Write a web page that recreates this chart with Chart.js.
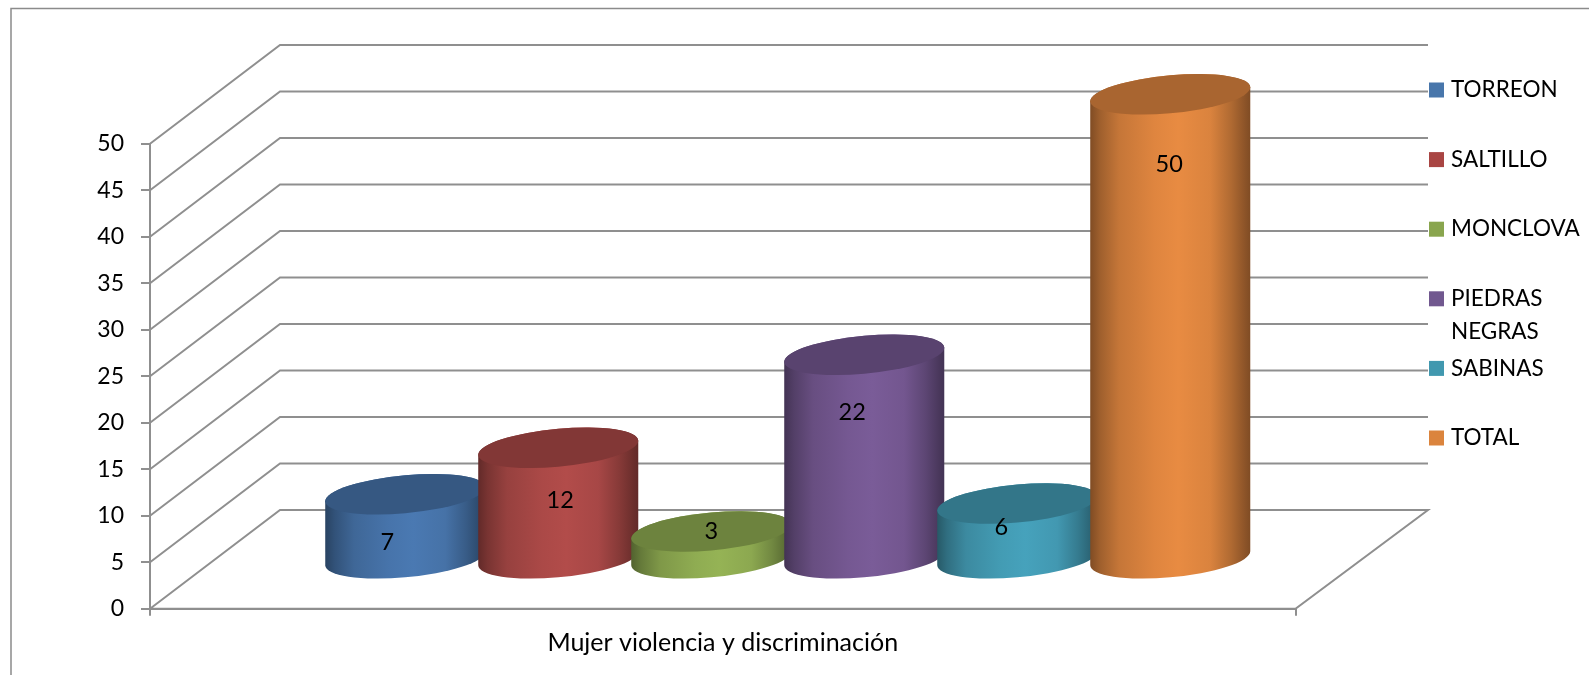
<!DOCTYPE html>
<html>
<head>
<meta charset="utf-8">
<title>Mujer violencia y discriminación</title>
<script src="https://cdn.jsdelivr.net/npm/chart.js@4"></script>
<style>
  html, body { margin: 0; padding: 0; background: #fff; }
  canvas { display: block; }
</style>
</head>
<body>
<canvas id="grafica" width="1589" height="675"></canvas>
<script>
const categoryLabel = ['Mujer violencia y discriminación'];
const cities = ['TORREON', 'SALTILLO', 'MONCLOVA', 'PIEDRAS NEGRAS', 'SABINAS', 'TOTAL'];
const cityValues = [7, 12, 3, 22, 6, 50];
const bodyColors = ['#4a79b2', '#b24c4a', '#95b355', '#7a5c98', '#46a2bc', '#e88b42'];
const legendColors = ['#4876ab', '#a94543', '#89a54e', '#71588f', '#4198af', '#db843d'];

const FONT = 'Lato, Carlito, "Open Sans", sans-serif';
const LINE = '#8f8f8f';
const DEPTH_X = 130, DEPTH_Y = 98.7;   // fondo del "cubo" 3D
// ajuste de las etiquetas de valor respecto a la cara superior del cilindro
const labelNudgeX = [-18, 2, 0, -12, -16, -1];
const labelNudgeY = [48, 53, 0, 58, 24, 70];

function shade(hex, f) {
    const n = parseInt(hex.slice(1), 16);
    const r = Math.round((n >> 16 & 255) * f);
    const g = Math.round((n >> 8 & 255) * f);
    const b = Math.round((n & 255) * f);
    return `rgb(${r},${g},${b})`;
}

// elipse inclinada: centro (cx, cy), de angulo a0 a a1
function skewArc(ctx, cx, cy, w, a0, a1) {
    ctx.save();
    ctx.transform(w, -7, 0, 19, cx, cy);
    ctx.arc(0, 0, 1, a0, a1);
    ctx.restore();
}

function drawCylinder(ctx, bar, color) {
    const w = bar.width * 1.046 / 2;
    const cx = bar.x + DEPTH_X / 2;
    const top = bar.y - DEPTH_Y / 2;
    const bottom = bar.base - DEPTH_Y / 2;

    const grad = ctx.createLinearGradient(cx - w, 0, cx + w, 0);
    [[0, .55], [.06, .68], [.18, .85], [.4, .96], [.55, 1], [.75, .94], [.88, .76], [.97, .6], [1, .55]]
        .forEach(s => grad.addColorStop(s[0], shade(color, s[1])));

    ctx.beginPath();
    ctx.moveTo(cx + w, top - 7);
    ctx.lineTo(cx + w, bottom - 7);
    skewArc(ctx, cx, bottom, w, 0, Math.PI);
    ctx.lineTo(cx - w, top + 7);
    skewArc(ctx, cx, top, w, Math.PI, 0);
    ctx.closePath();
    ctx.fillStyle = grad;
    ctx.fill();

    ctx.beginPath();
    skewArc(ctx, cx, top, w, 0, Math.PI * 2);
    ctx.closePath();
    ctx.fillStyle = shade(color, .73);
    ctx.fill();
}

const frame3d = {
    id: 'frame3d',
    beforeDraw(chart) {
        const ctx = chart.ctx;
        ctx.save();
        ctx.strokeStyle = '#8b8b8b';
        ctx.lineWidth = 1.5;
        ctx.beginPath();
        ctx.moveTo(11, 675);
        ctx.lineTo(11, 8.5);
        ctx.lineTo(1589, 8.5);
        ctx.stroke();
        ctx.restore();
    },
    beforeDatasetsDraw(chart) {
        const ctx = chart.ctx;
        const { left, right } = chart.chartArea;
        const yScale = chart.scales.y;
        ctx.save();
        ctx.strokeStyle = LINE;
        ctx.lineWidth = 2;
        yScale.ticks.forEach(t => {
            const y = yScale.getPixelForValue(t.value);
            ctx.beginPath();
            ctx.moveTo(left, y);
            ctx.lineTo(left + DEPTH_X, y - DEPTH_Y);
            ctx.lineTo(right + DEPTH_X + 2.5, y - DEPTH_Y);
            if (t.value === 0) {
                ctx.lineTo(right, y);
                ctx.lineTo(left, y);
            }
            ctx.stroke();
        });
        ctx.restore();
        // de izquierda a derecha: cada cilindro tapa al anterior
        cityValues.forEach((v, i) => {
            drawCylinder(ctx, chart.getDatasetMeta(i).data[0], bodyColors[i]);
        });
    },
    beforeDatasetDraw() {
        return false;
    },
    afterDatasetsDraw(chart) {
        const ctx = chart.ctx;
        ctx.save();
        ctx.fillStyle = '#000';
        ctx.font = '23.5px ' + FONT;
        ctx.textAlign = 'center';
        ctx.textBaseline = 'middle';
        cityValues.forEach((v, i) => {
            const bar = chart.getDatasetMeta(i).data[0];
            const x = bar.x + DEPTH_X / 2 + labelNudgeX[i];
            const y = bar.y - DEPTH_Y / 2 + labelNudgeY[i];
            ctx.fillText(v, x, y);
        });
        ctx.restore();
    },
    afterDraw(chart) {
        // leyenda a la derecha, repartida a lo alto del fondo
        const ctx = chart.ctx;
        const x = chart.chartArea.right + DEPTH_X + 3.5;
        ctx.save();
        ctx.font = '22.5px ' + FONT;
        ctx.textBaseline = 'middle';
        ctx.textAlign = 'left';
        cities.forEach((name, i) => {
            const y = 90 + i * 69.6;
            ctx.fillStyle = legendColors[i];
            ctx.fillRect(x, y - 7.5, 15, 15);
            ctx.fillStyle = '#000';
            name.split(' ').forEach((word, j) => ctx.fillText(word, x + 22, y + j * 33));
        });
        ctx.restore();
    }
};

new Chart(document.getElementById('grafica'), {
    type: 'bar',
    data: {
        labels: categoryLabel,
        datasets: cities.map((name, i) => ({
            label: name,
            data: [cityValues[i]],
            backgroundColor: legendColors[i],
            barPercentage: 1,
            categoryPercentage: 0.8014
        }))
    },
    options: {
        responsive: false,
        animation: false,
        layout: { padding: { top: 143.7, right: 293.5, bottom: 0, left: 0 } },
        plugins: { legend: { display: false }, title: { display: false }, tooltip: { enabled: false } },
        scales: {
            x: {
                afterFit: s => { s.height = 66.3; },
                grid: { drawOnChartArea: false, color: LINE, lineWidth: 2, tickLength: 7 },
                border: { color: LINE, width: 2 },
                ticks: { color: '#000', font: { family: FONT, size: 25 }, padding: 12 }
            },
            y: {
                min: 0,
                max: 50,
                afterFit: s => { s.width = 150; },
                grid: { drawOnChartArea: false, color: LINE, lineWidth: 2, tickLength: 9 },
                border: { color: LINE, width: 2 },
                ticks: { stepSize: 5, color: '#000', font: { family: FONT, size: 23 }, padding: 17 }
            }
        }
    },
    plugins: [frame3d]
});
</script>
</body>
</html>
